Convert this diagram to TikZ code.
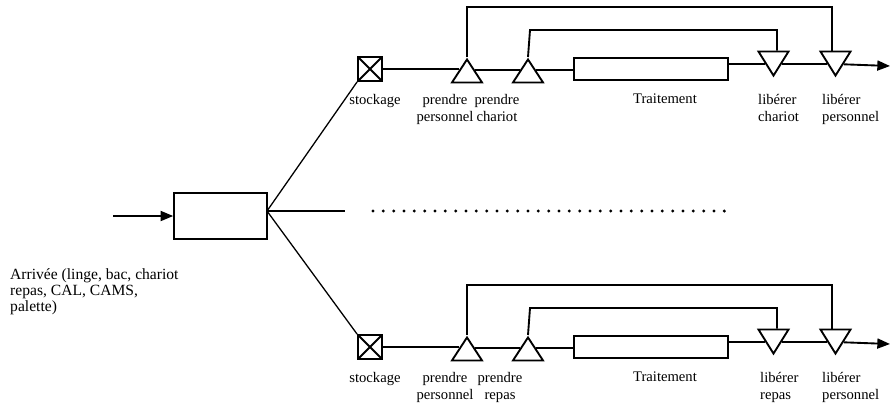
\documentclass[tikz,border=0pt]{standalone}
\usepackage{fontspec}
\setmainfont{Liberation Serif}
\usetikzlibrary{shapes.geometric,arrows.meta}

\tikzset{
  flow/.style={line width=1.6pt},
  branch/.style={line width=1.1pt},
  tip/.style={-{Triangle[length=0.38cm,width=0.3cm]}},
  sortbox/.style={draw, line width=1.3pt, minimum width=2.79cm, minimum height=1.38cm, inner sep=0pt},
  stockbox/.style={draw, line width=1.6pt, minimum width=0.72cm, minimum height=0.72cm, inner sep=0pt,
    path picture={\draw[line width=1.6pt] (path picture bounding box.north west) -- (path picture bounding box.south east)
      (path picture bounding box.south west) -- (path picture bounding box.north east);}},
  takenode/.style={draw, line width=1.6pt, isosceles triangle, isosceles triangle stretches,
    shape border rotate=90, minimum width=0.9cm, minimum height=0.69cm, inner sep=0pt, anchor=apex},
  freenode/.style={takenode, shape border rotate=270, minimum height=0.72cm},
  treatbox/.style={draw, line width=1.6pt, minimum width=4.62cm, minimum height=0.68cm, inner sep=0pt},
  txt/.style={font=\fontsize{12.5}{14.8}\selectfont, align=center, inner sep=0pt, anchor=north},
  txtl/.style={txt, align=left, anchor=north west},
}

\begin{document}
\begin{tikzpicture}[x=0.03cm,y=-0.03cm]
\useasboundingbox (0,0) rectangle (891,407);

% entree et tri
\coordinate (inA) at (113,216);
\node[sortbox] (sort) at (220.5,216) {};
\draw[flow,tip] (inA) -- (sort);
\node[txtl, font=\fontsize{13.3}{13.8}\selectfont] (arrival) at (10,268) {Arrivée (linge, bac, chariot\\repas, CAL, CAMS,\\palette)};
\coordinate (fork) at (267,211);
\coordinate (gap) at (345,211);
\coordinate (dotsL) at (373,211);
\coordinate (dotsR) at (727,211);

% ligne du haut
\node[stockbox] (stockA) at (370,69) {};
\node[takenode] (persA) at (467,57) {};
\node[takenode] (itemA) at (528,57) {};
\node[treatbox] (treatA) at (651,69) {};
\node[freenode] (itemoutA) at (773.5,78) {};
\node[freenode] (persoutA) at (835.5,78) {};
\coordinate (exitA) at (890,66);
\draw[flow] (stockA.east) -- (stockA.east -| persA.left side);
\draw[flow] (persA.right side) -- (itemA.left side);
\draw[flow] (itemA.right side) -- (itemA.right side -| treatA.west);
\draw[flow] (treatA.east |- itemoutA.right side) -- (itemoutA.right side);
\draw[flow] (itemoutA.left side) -- (persoutA.right side);
\draw[flow,tip] (persoutA.left side) -- (exitA);
\draw[flow] (persA.apex) -- ++(0,-50) -| ([xshift=-3pt]persoutA.lower side);
\draw[flow] (itemA.apex) -- ++(2,-27) -| ([xshift=3pt]itemoutA.lower side);
\node[txt] (lstockA) at (375,94) {stockage};
\node[txt] (lpersA) at (445,94) {prendre\\personnel};
\node[txt] (litemA) at (497,94) {prendre\\chariot};
\node[txt] (ltreatA) at (665,94) {Traitement};
\node[txtl] (litemoutA) at (758,94) {libérer\\chariot};
\node[txtl] (lpersoutA) at (822,94) {libérer\\personnel};

% ligne du bas
\node[stockbox] (stockB) at (370,347) {};
\node[takenode] (persB) at (467,335) {};
\node[takenode] (itemB) at (528,335) {};
\node[treatbox] (treatB) at (651,347) {};
\node[freenode] (itemoutB) at (773.5,356) {};
\node[freenode] (persoutB) at (835.5,356) {};
\coordinate (exitB) at (890,344);
\draw[flow] (stockB.east) -- (stockB.east -| persB.left side);
\draw[flow] (persB.right side) -- (itemB.left side);
\draw[flow] (itemB.right side) -- (itemB.right side -| treatB.west);
\draw[flow] (treatB.east |- itemoutB.right side) -- (itemoutB.right side);
\draw[flow] (itemoutB.left side) -- (persoutB.right side);
\draw[flow,tip] (persoutB.left side) -- (exitB);
\draw[flow] (persB.apex) -- ++(0,-50) -| ([xshift=-3pt]persoutB.lower side);
\draw[flow] (itemB.apex) -- ++(2,-27) -| ([xshift=3pt]itemoutB.lower side);
\node[txt] (lstockB) at (375,372) {stockage};
\node[txt] (lpersB) at (445,372) {prendre\\personnel};
\node[txt] (litemB) at (500,372) {prendre\\repas};
\node[txt] (ltreatB) at (665,372) {Traitement};
\node[txtl] (litemoutB) at (760,372) {libérer\\repas};
\node[txtl] (lpersoutB) at (822,372) {libérer\\personnel};

% branches
\draw[branch] (fork) -- (stockA.south west);
\draw[branch] (fork) -- (stockB.north west);
\draw[branch] (fork) -- (gap);
\draw[line width=2.8pt, line cap=round, dash pattern=on 0pt off 0.31cm] (dotsL) -- (dotsR);
\end{tikzpicture}
\end{document}
